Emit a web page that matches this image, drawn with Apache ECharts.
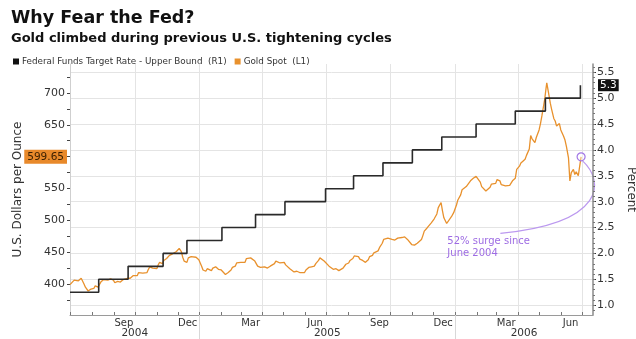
<!DOCTYPE html>
<html>
<head>
<meta charset="utf-8">
<script src="https://cdn.jsdelivr.net/npm/echarts@6/dist/echarts.min.js"></script>
<style>
  html, body { margin: 0; padding: 0; background: #fff; }
  #chart { width: 636px; height: 339px; }
</style>
</head>
<body>
<div id="chart"></div>
<script>
// Gold spot price, USD per ounce
const goldSpot = [
  ['2004-06-30',399],['2004-07-02',401],['2004-07-06',406],['2004-07-08',409],['2004-07-12',405],['2004-07-14',407],
  ['2004-07-16',409],['2004-07-20',400],['2004-07-22',395],['2004-07-26',389],['2004-07-28',388],['2004-07-30',392],
  ['2004-08-03',393],['2004-08-05',397],['2004-08-09',395],['2004-08-11',399],['2004-08-13',403],['2004-08-17',407],
  ['2004-08-19',410],['2004-08-23',406],['2004-08-25',404],['2004-08-27',408],['2004-08-31',406],['2004-09-02',402],
  ['2004-09-06',404],['2004-09-08',406],['2004-09-10',403],['2004-09-14',407],['2004-09-16',405],['2004-09-20',409],
  ['2004-09-22',411],['2004-09-24',409],['2004-09-28',413],['2004-09-30',416],['2004-10-04',413],['2004-10-06',418],
  ['2004-10-08',421],['2004-10-12',417],['2004-10-14',420],['2004-10-18',418],['2004-10-20',423],['2004-10-22',427],
  ['2004-10-26',425],['2004-10-28',428],['2004-11-01',424],['2004-11-03',430],['2004-11-05',434],['2004-11-09',432],
  ['2004-11-11',437],['2004-11-15',440],['2004-11-17',443],['2004-11-19',445],['2004-11-23',447],['2004-11-25',449],
  ['2004-11-29',451],['2004-12-01',454],['2004-12-03',456],['2004-12-06',451],['2004-12-08',442],['2004-12-10',436],
  ['2004-12-14',434],['2004-12-16',441],['2004-12-20',443],['2004-12-22',440],['2004-12-27',442],['2004-12-31',438],
  ['2005-01-04',428],['2005-01-06',422],['2005-01-10',420],['2005-01-12',424],['2005-01-14',422],['2005-01-18',421],
  ['2005-01-20',425],['2005-01-24',427],['2005-01-26',424],['2005-01-28',423],['2005-02-01',422],['2005-02-03',420],
  ['2005-02-07',415],['2005-02-09',413],['2005-02-11',418],['2005-02-15',422],['2005-02-17',426],['2005-02-21',428],
  ['2005-02-23',433],['2005-02-25',436],['2005-03-01',434],['2005-03-03',432],['2005-03-07',434],['2005-03-09',440],
  ['2005-03-11',443],['2005-03-15',441],['2005-03-17',444],['2005-03-21',436],['2005-03-23',432],['2005-03-25',428],
  ['2005-03-29',426],['2005-03-31',429],['2005-04-04',427],['2005-04-06',428],['2005-04-08',425],['2005-04-12',428],
  ['2005-04-14',430],['2005-04-18',432],['2005-04-20',436],['2005-04-22',435],['2005-04-26',433],['2005-04-28',431],
  ['2005-05-02',434],['2005-05-04',430],['2005-05-06',428],['2005-05-10',424],['2005-05-12',422],['2005-05-16',419],
  ['2005-05-18',418],['2005-05-20',420],['2005-05-24',418],['2005-05-26',417],['2005-05-31',418],['2005-06-02',422],
  ['2005-06-06',426],['2005-06-08',423],['2005-06-10',427],['2005-06-14',428],['2005-06-16',432],['2005-06-20',437],
  ['2005-06-22',441],['2005-06-24',438],['2005-06-28',436],['2005-06-30',434],['2005-07-05',428],['2005-07-07',426],
  ['2005-07-11',423],['2005-07-13',422],['2005-07-15',424],['2005-07-19',421],['2005-07-21',423],['2005-07-25',425],
  ['2005-07-27',427],['2005-07-29',431],['2005-08-02',433],['2005-08-04',437],['2005-08-08',440],['2005-08-10',444],
  ['2005-08-12',446],['2005-08-16',443],['2005-08-18',439],['2005-08-22',437],['2005-08-24',436],['2005-08-26',434],
  ['2005-08-30',438],['2005-09-01',443],['2005-09-05',445],['2005-09-07',449],['2005-09-09',448],['2005-09-13',452],
  ['2005-09-15',457],['2005-09-19',464],['2005-09-21',470],['2005-09-23',468],['2005-09-27',472],['2005-09-29',474],
  ['2005-10-03',470],['2005-10-05',473],['2005-10-07',469],['2005-10-11',472],['2005-10-13',470],['2005-10-17',473],
  ['2005-10-19',476],['2005-10-21',474],['2005-10-25',470],['2005-10-27',467],['2005-10-31',462],['2005-11-02',459],
  ['2005-11-04',461],['2005-11-08',464],['2005-11-10',466],['2005-11-14',470],['2005-11-16',476],['2005-11-18',483],
  ['2005-11-22',488],['2005-11-24',491],['2005-11-28',496],['2005-11-30',495],['2005-12-02',502],['2005-12-06',510],
  ['2005-12-08',520],['2005-12-12',528],['2005-12-14',515],['2005-12-16',504],['2005-12-20',495],['2005-12-22',497],
  ['2005-12-27',506],['2005-12-30',512],
  ['2006-01-03',524],['2006-01-05',532],['2006-01-09',540],['2006-01-11',548],['2006-01-13',546],['2006-01-17',553],
  ['2006-01-19',556],['2006-01-23',562],['2006-01-25',559],['2006-01-27',566],['2006-01-31',569],['2006-02-02',566],
  ['2006-02-06',560],['2006-02-08',553],['2006-02-10',556],['2006-02-14',546],['2006-02-16',545],['2006-02-20',552],
  ['2006-02-22',557],['2006-02-24',554],['2006-02-28',558],['2006-03-02',564],['2006-03-06',562],['2006-03-08',556],
  ['2006-03-10',558],['2006-03-14',554],['2006-03-16',552],['2006-03-20',555],['2006-03-22',558],['2006-03-24',562],
  ['2006-03-28',566],['2006-03-30',580],['2006-04-03',585],['2006-04-05',590],['2006-04-07',592],['2006-04-11',596],
  ['2006-04-13',602],['2006-04-17',612],['2006-04-19',633],['2006-04-21',628],['2006-04-25',622],['2006-04-27',630],
  ['2006-05-01',642],['2006-05-03',652],['2006-05-05',664],['2006-05-09',690],['2006-05-11',708],['2006-05-12',716],
  ['2006-05-15',697],['2006-05-17',684],['2006-05-19',674],['2006-05-22',660],['2006-05-24',656],['2006-05-26',648],
  ['2006-05-30',652],['2006-06-01',642],['2006-06-05',632],['2006-06-07',626],['2006-06-09',616],['2006-06-12',598],
  ['2006-06-14',562],['2006-06-16',575],['2006-06-19',580],['2006-06-21',572],['2006-06-23',576],['2006-06-26',570],
  ['2006-06-28',585],['2006-06-30',599.65]
];

// Fed funds target rate, upper bound (%), effective from each date
const fedRateDates = [
  '2004-06-30','2004-08-10','2004-09-21','2004-11-10','2004-12-14','2005-02-02','2005-03-22','2005-05-03',
  '2005-06-30','2005-08-09','2005-09-20','2005-11-01','2005-12-13','2006-01-31','2006-03-28','2006-05-10',
  '2006-06-29','2006-06-30'
];
const fedRateValues = [1.25,1.5,1.75,2.0,2.25,2.5,2.75,3.0,3.25,3.5,3.75,4.0,4.25,4.5,4.75,5.0,5.25,5.25];

// Axis labels
const monthLabelDates = ['2004-09-15','2004-12-15','2005-03-15','2005-06-15','2005-09-15','2005-12-15','2006-03-15','2006-06-15'];
const monthNames = ['Jan','Feb','Mar','Apr','May','Jun','Jul','Aug','Sep','Oct','Nov','Dec'];
const quarterStarts = ['2004-10-01','2005-01-01','2005-04-01','2005-07-01','2005-10-01','2006-01-01','2006-04-01','2006-07-01'];
const years = [2004, 2005, 2006];
const goldTicks = [400, 450, 500, 550, 600, 650, 700];
const rateTicks = [1.0, 1.5, 2.0, 2.5, 3.0, 3.5, 4.0, 4.5, 5.0, 5.5];

const lastGold = goldSpot[goldSpot.length - 1];
const lastRate = fedRateValues[fedRateValues.length - 1];

// dates are placed on a numeric (millisecond) axis
const ts = s => {
  const [y, m, d] = s.split('-').map(Number);
  return new Date(y, m - 1, d).getTime();
};
const X_MIN = ts('2004-06-30');
const X_MAX = ts('2006-07-17');
const GOLD_MIN = 351.3, GOLD_MAX = 745.5;
const RATE_MIN = 0.81, RATE_MAX = 5.66;

const monthStarts = [];
for (let y = 2004; y <= 2006; y++) {
  for (let m = 0; m < 12; m++) {
    const t = new Date(y, m, 1).getTime();
    if (t >= X_MIN && t <= X_MAX) monthStarts.push(t);
  }
}
const yearBounds = years.slice(1).map(y => new Date(y, 0, 1).getTime());
const yearCenters = years.map(y => {
  const a = Math.max(X_MIN, new Date(y, 0, 1).getTime());
  const b = Math.min(X_MAX, new Date(y + 1, 0, 1).getTime());
  return (a + b) / 2;
});
const goldMinor = [];
for (let v = 375; v <= 725; v += 25) goldMinor.push(v);
const rateMinor = [];
for (let i = 9; i <= 56; i++) rateMinor.push(i / 10);

const FONT = 'DejaVu Sans';
const TXT = '#333';
const GOLD = '#e8912d';
const RATE = '#2a2a2a';
const PURPLE = '#a277e6';
const GRID = '#e4e4e4';

const chart = echarts.init(document.getElementById('chart'), null, { renderer: 'canvas' });

const xBase = { type: 'value', min: X_MIN, max: X_MAX, position: 'bottom', scale: true };

const option = {
  animation: false,
  backgroundColor: '#fff',
  textStyle: { fontFamily: FONT },
  title: [
    { text: 'Why Fear the Fed?', left: 6, top: 4,
      textStyle: { fontFamily: FONT, fontWeight: 'bold', fontSize: 17.5, color: '#111' } },
    { text: 'Gold climbed during previous U.S. tightening cycles', left: 6, top: 27,
      textStyle: { fontFamily: FONT, fontWeight: 'bold', fontSize: 13, color: '#111' } }
  ],
  legend: {
    left: 13, top: 57, padding: 0, itemGap: 8,
    icon: 'rect', itemWidth: 6, itemHeight: 6,
    textStyle: { fontFamily: FONT, fontSize: 8.8, color: TXT, padding: [0, 0, 0, -2] },
    data: ['Federal Funds Target Rate - Upper Bound  (R1)', 'Gold Spot  (L1)']
  },
  grid: { left: 70, right: 43, top: 64, bottom: 24, containLabel: false, outerBoundsMode: 'none' },
  xAxis: [
    Object.assign({}, xBase, {
      axisLine: { show: true, lineStyle: { color: '#9a9a9a', width: 1 } },
      axisTick: { show: true, inside: true, customValues: monthStarts, length: 3, lineStyle: { color: '#777' } },
      axisLabel: {
        customValues: monthLabelDates.map(ts), margin: 3, fontSize: 10, color: TXT, fontFamily: FONT,
        formatter: v => monthNames[new Date(v).getMonth()]
      },
      splitLine: { show: false }
    }),
    Object.assign({}, xBase, {
      axisLine: { show: false },
      axisTick: { show: true, customValues: yearBounds, length: 24, lineStyle: { color: '#d8d8d8' } },
      axisLabel: {
        customValues: yearCenters, margin: 13, fontSize: 10.5, color: TXT, fontFamily: FONT,
        formatter: v => String(new Date(v).getFullYear())
      },
      splitLine: { show: false }
    }),
    Object.assign({}, xBase, {
      axisLine: { show: false },
      axisTick: { show: false, customValues: quarterStarts.map(ts) },
      axisLabel: { show: false },
      splitLine: { show: true, lineStyle: { color: GRID, width: 1 } }
    })
  ],
  yAxis: [
    {
      type: 'value', position: 'left', min: GOLD_MIN, max: GOLD_MAX,
      name: 'U.S. Dollars per Ounce', nameLocation: 'middle', nameGap: 46, nameRotate: 90,
      nameTextStyle: { fontFamily: FONT, fontSize: 12, color: TXT },
      axisLine: { show: true, lineStyle: { color: '#cfcfcf' } },
      axisTick: { show: true, customValues: goldMinor, length: 3, lineStyle: { color: '#444' } },
      axisLabel: { customValues: goldTicks, margin: 5, fontSize: 11, color: TXT, fontFamily: FONT },
      splitLine: { show: false }
    },
    {
      type: 'value', position: 'right', min: RATE_MIN, max: RATE_MAX,
      name: 'Percent', nameLocation: 'middle', nameGap: 24, nameRotate: -90,
      nameTextStyle: { fontFamily: FONT, fontSize: 12, color: TXT },
      axisLine: { show: true, lineStyle: { color: '#8a8a8a', width: 1.5 } },
      axisTick: { show: true, customValues: rateTicks, length: 3, lineStyle: { color: '#333' } },
      axisLabel: { customValues: rateTicks, margin: 4, fontSize: 11, color: TXT, fontFamily: FONT,
        formatter: v => v.toFixed(1) },
      splitLine: { show: true, lineStyle: { color: GRID, width: 1 } }
    },
    {
      type: 'value', position: 'right', min: RATE_MIN, max: RATE_MAX,
      axisLine: { show: false },
      axisTick: { show: true, customValues: rateMinor, length: 2, lineStyle: { color: '#777' } },
      axisLabel: { show: false },
      splitLine: { show: false }
    }
  ],
  series: [
    {
      name: 'Gold Spot  (L1)', type: 'line', xAxisIndex: 0, yAxisIndex: 0,
      data: goldSpot.map(([d, v]) => [ts(d), v]), showSymbol: false, symbol: 'none', z: 3,
      lineStyle: { color: GOLD, width: 1.3 }, itemStyle: { color: GOLD },
      markLine: {
        silent: true, symbol: ['none', 'none'],
        lineStyle: { color: 'rgba(0,0,0,0)', width: 0 },
        label: {
          show: true, position: 'start', distance: 3, formatter: String(lastGold[1]),
          backgroundColor: '#e8892a', color: '#3a1f00', padding: [2, 3, 1, 3],
          fontFamily: FONT, fontSize: 10.5
        },
        data: [{ yAxis: lastGold[1] }]
      },
      markPoint: {
        silent: true, symbol: 'circle', symbolSize: 8,
        itemStyle: { color: 'rgba(255,255,255,0.35)', borderColor: PURPLE, borderWidth: 1.2 },
        label: { show: false },
        data: [{ coord: [ts(lastGold[0]), lastGold[1]] }]
      }
    },
    {
      name: 'Federal Funds Target Rate - Upper Bound  (R1)', type: 'line', xAxisIndex: 0, yAxisIndex: 1,
      data: fedRateDates.map((d, i) => [ts(d), fedRateValues[i]]), step: 'end',
      showSymbol: false, symbol: 'none', z: 4,
      lineStyle: { color: RATE, width: 1.6 }, itemStyle: { color: '#111' },
      markLine: {
        silent: true, symbol: ['none', 'none'],
        lineStyle: { color: 'rgba(0,0,0,0)', width: 0 },
        label: {
          show: true, position: 'end', distance: 5, formatter: lastRate.toFixed(1),
          backgroundColor: '#111', color: '#fff', padding: [1, 2, 0, 2],
          fontFamily: FONT, fontSize: 10.5
        },
        data: [{ yAxis: lastRate }]
      }
    }
  ]
};

chart.setOption(option);

// Callout: curved connector from the last gold point to the note below it
const end = chart.convertToPixel({ seriesIndex: 0 }, [ts(lastGold[0]), lastGold[1]]);
const note = chart.convertToPixel({ seriesIndex: 0 }, [ts('2005-12-21'), 477]);
chart.setOption({
  graphic: [
    {
      type: 'bezierCurve', silent: true,
      shape: {
        x1: end[0] + 1.5, y1: end[1] + 4,
        cpx1: end[0] + 23, cpy1: end[1] + 24,
        cpx2: end[0] + 26, cpy2: end[1] + 66,
        x2: note[0] + 53, y2: note[1] - 1.5
      },
      style: { stroke: '#bb98ef', lineWidth: 1.2, fill: null }
    },
    {
      type: 'text', silent: true, x: note[0], y: note[1],
      style: {
        text: '52% surge since\nJune 2004', fill: '#9d6be3',
        font: '10px "DejaVu Sans"', lineHeight: 12.6
      }
    }
  ]
});
</script>
</body>
</html>
